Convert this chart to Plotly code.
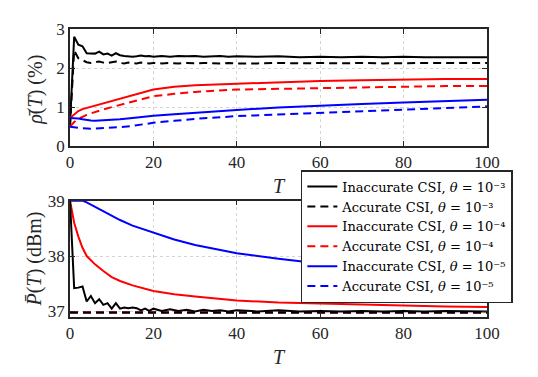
import plotly.graph_objects as go
from plotly.subplots import make_subplots

# time grids
T_fine = [0, 1, 2, 3, 4, 5, 6, 7, 8, 9, 10, 11, 12, 13, 14, 15, 16, 17, 18, 19, 20,
          22, 24, 26, 28, 30, 32, 34, 36, 38, 40,
          45, 50, 55, 60, 65, 70, 75, 80, 85, 90, 95, 100]
T_smooth = [0, 1, 2, 3, 4, 5, 6, 8, 10, 12, 15, 20, 25, 30, 40, 50, 60, 70, 80, 90, 100]
T_flat = [0, 100]

# top panel: rho(T) in %
rho_inacc_3 = [0.55, 2.8, 2.6, 2.56, 2.38, 2.37, 2.37, 2.42, 2.35, 2.37, 2.32, 2.38, 2.33, 2.31, 2.3, 2.29, 2.3, 2.32, 2.3, 2.31, 2.29,
               2.31, 2.29, 2.31, 2.3, 2.31, 2.29, 2.3, 2.31, 2.29, 2.3,
               2.29, 2.3, 2.28, 2.29, 2.28, 2.29, 2.28, 2.29, 2.28, 2.28, 2.29, 2.28]
rho_acc_3 = [0.5, 2.45, 2.25, 2.2, 2.15, 2.13, 2.15, 2.17, 2.14, 2.13, 2.15, 2.17, 2.13, 2.12, 2.14, 2.13, 2.12, 2.14, 2.13, 2.12, 2.13,
             2.12, 2.13, 2.12, 2.13, 2.12, 2.13, 2.12, 2.12, 2.13, 2.12,
             2.12, 2.13, 2.12, 2.13, 2.12, 2.13, 2.12, 2.13, 2.13, 2.13, 2.13, 2.13]
rho_inacc_4 = [0.72, 0.82, 0.9, 0.95, 0.98, 1.02, 1.05, 1.1, 1.15, 1.22, 1.3, 1.45, 1.52, 1.56, 1.6, 1.64, 1.67, 1.69, 1.71, 1.72, 1.72]
rho_acc_4 = [0.5, 0.62, 0.7, 0.76, 0.8, 0.84, 0.88, 0.94, 1.0, 1.06, 1.15, 1.28, 1.34, 1.39, 1.45, 1.47, 1.49, 1.51, 1.53, 1.54, 1.54]
rho_inacc_5 = [0.72, 0.72, 0.71, 0.69, 0.67, 0.66, 0.65, 0.66, 0.67, 0.69, 0.72, 0.78, 0.82, 0.86, 0.93, 0.99, 1.04, 1.08, 1.12, 1.16, 1.19]
rho_acc_5 = [0.5, 0.48, 0.47, 0.46, 0.45, 0.45, 0.45, 0.46, 0.47, 0.49, 0.52, 0.6, 0.65, 0.7, 0.77, 0.81, 0.85, 0.89, 0.93, 0.97, 1.02]

# bottom panel: P(T) in dBm
P_inacc_3 = [39, 37.42, 37.43, 37.45, 37.18, 37.28, 37.15, 37.22, 37.12, 37.15, 37.05, 37.15, 37.05, 37.07, 37.06, 37.07, 37.06, 37.02, 37.05, 37.01, 37.05,
             37.01, 37.04, 37.01, 37.03, 37.0, 37.03, 37.01, 37.02, 37.0, 37.02,
             37.0, 37.02, 37.0, 37.01, 37.0, 37.01, 37.0, 37.01, 37.0, 37.01, 37.0, 37.0]
P_inacc_4 = [39, 38.6, 38.35, 38.15, 38.0, 37.92, 37.85, 37.73, 37.62, 37.55, 37.47, 37.37, 37.31, 37.27, 37.2, 37.16, 37.14, 37.12, 37.1, 37.09, 37.08]
P_inacc_5 = [39, 39, 39, 39, 38.97, 38.93, 38.88, 38.8, 38.72, 38.65, 38.55, 38.42, 38.3, 38.2, 38.05, 37.95, 37.86, 37.77, 37.69, 37.62, 37.56]
P_acc_3 = [36.98, 36.98]
P_acc_4 = [36.98, 36.98]
P_acc_5 = [36.98, 36.98]

labels = ["Inaccurate CSI, <i>θ</i> = 10⁻³",
          "Accurate CSI, <i>θ</i> = 10⁻³",
          "Inaccurate CSI, <i>θ</i> = 10⁻⁴",
          "Accurate CSI, <i>θ</i> = 10⁻⁴",
          "Inaccurate CSI, <i>θ</i> = 10⁻⁵",
          "Accurate CSI, <i>θ</i> = 10⁻⁵"]
colors = ["#000000", "#000000", "#ff0000", "#ff0000", "#0000ff", "#0000ff"]
DASH = "8px,5px"

fig = make_subplots(rows=2, cols=1, vertical_spacing=0.19)

top = [(T_fine, rho_inacc_3), (T_fine, rho_acc_3), (T_smooth, rho_inacc_4),
       (T_smooth, rho_acc_4), (T_smooth, rho_inacc_5), (T_smooth, rho_acc_5)]
for i, (x, y) in enumerate(top):
    fig.add_trace(go.Scatter(x=x, y=y, mode="lines", name=labels[i],
                             line=dict(color=colors[i], width=2,
                                       dash="solid" if i % 2 == 0 else DASH)),
                  row=1, col=1)

# bottom: draw dashed first so black lies on top
bottom = [(5, T_flat, P_acc_5), (3, T_flat, P_acc_4), (1, T_flat, P_acc_3),
          (4, T_smooth, P_inacc_5), (2, T_smooth, P_inacc_4), (0, T_fine, P_inacc_3)]
for i, x, y in bottom:
    fig.add_trace(go.Scatter(x=x, y=y, mode="lines", name=labels[i], showlegend=False,
                             line=dict(color=colors[i], width=2,
                                       dash="solid" if i % 2 == 0 else DASH)),
                  row=2, col=1)

font = "Liberation Serif"
ink = "#262626"
axis_common = dict(showline=True, linecolor=ink, linewidth=1.5, mirror="ticks",
                   ticks="inside", ticklen=5, tickcolor=ink,
                   showgrid=True, gridcolor="#d4d4d4", griddash="dot", gridwidth=1,
                   zeroline=False, tickfont=dict(family=font, size=17, color=ink))

for r in (1, 2):
    fig.update_xaxes(range=[0, 100], tickvals=[0, 20, 40, 60, 80, 100],
                     title=dict(text="<i>T</i>", font=dict(family=font, size=20, color=ink), standoff=8),
                     row=r, col=1, **axis_common)

fig.update_yaxes(range=[0, 3], tickvals=[0, 1, 2, 3], row=1, col=1, **axis_common)
fig.update_yaxes(range=[36.9, 39], tickvals=[37, 38, 39], row=2, col=1, **axis_common)

# y titles placed as rotated annotations
fig.add_annotation(text="<i>ρ̄</i>(<i>T</i>) (%)", xref="paper", yref="y domain",
                   x=-0.082, y=0.48, xanchor="center", yanchor="middle", textangle=-90,
                   showarrow=False, font=dict(family=font, size=20, color=ink))
fig.add_annotation(text="<i>P̄</i>(<i>T</i>) (dBm)", xref="paper", yref="y2 domain",
                   x=-0.085, y=0.5, xanchor="center", yanchor="middle", textangle=-90,
                   showarrow=False, font=dict(family=font, size=20, color=ink))

# the page body adds an 8px offset, so the figure is 8px smaller on each side
fig.update_layout(
    width=530, height=369,
    margin=dict(l=62, r=51, t=19, b=48),
    paper_bgcolor="white", plot_bgcolor="white",
    font=dict(family=font, color=ink),
    legend=dict(x=1.062, y=0.51, xanchor="right", yanchor="top",
                bgcolor="white", bordercolor=ink, borderwidth=1.5,
                font=dict(family="DejaVu Serif", size=13, color="#000000"),
                tracegroupgap=0, itemwidth=30),
)
fig.update_yaxes(domain=[0.593, 1.0], row=1, col=1)
fig.update_yaxes(domain=[0.0, 0.404], row=2, col=1)

fig.write_html("out.html")
